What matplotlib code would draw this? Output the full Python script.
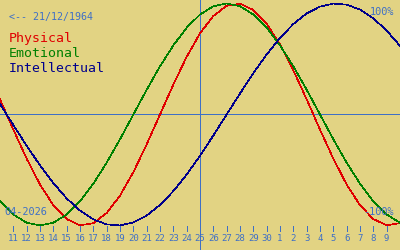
import matplotlib
matplotlib.use("Agg")
import matplotlib.pyplot as plt
import matplotlib.transforms as mtransforms

# Day positions (10 .. 40 -> April 10 .. May 10, 2026)
days = list(range(10, 41))
tick_days = list(range(11, 40))
tick_labels = [str(d) for d in range(11, 31)] + [str(d) for d in range(1, 10)]
today = 25

physical = [0.136, -0.136, -0.398, -0.631, -0.817, -0.942, -0.998, -0.979, -0.888, -0.731,
            -0.520, -0.270, 0.000, 0.270, 0.520, 0.731, 0.888, 0.979, 0.998, 0.942,
            0.817, 0.631, 0.398, 0.136, -0.136, -0.398, -0.631, -0.817, -0.942, -0.998, -0.979]
emotional = [-0.782, -0.901, -0.975, -1.000, -0.975, -0.901, -0.782, -0.623, -0.434, -0.223,
             0.000, 0.223, 0.434, 0.623, 0.782, 0.901, 0.975, 1.000, 0.975, 0.901,
             0.782, 0.623, 0.434, 0.223, 0.000, -0.223, -0.434, -0.623, -0.782, -0.901, -0.975]
intellectual = [0.095, -0.095, -0.282, -0.458, -0.618, -0.756, -0.866, -0.945, -0.990, -0.999,
                -0.972, -0.910, -0.815, -0.690, -0.541, -0.372, -0.189, 0.000, 0.189, 0.372,
                0.541, 0.690, 0.815, 0.910, 0.972, 0.999, 0.990, 0.945, 0.866, 0.756, 0.618]

series_names = ["Physical", "Emotional", "Intellectual"]
series_colors = ["#E00000", "#008000", "#00008C"]
birth_label = "<-- 21/12/1964"
month_label = "04-2026"

BG = "#E2D383"
BLUE = "#3E6FC6"
MONO = "DejaVu Sans Mono"
LW = 0.6

fig = plt.figure(figsize=(4, 2.5), dpi=100, facecolor=BG)
ax = fig.add_axes([0, 0, 1, 1], facecolor=BG)
ax.set_xlim(10, 40)
ax.set_ylim(-1.2207, 1.0315)
ax.axis("off")

ax.axhline(0, color=BLUE, lw=LW, antialiased=False, zorder=1)
ax.axvline(today, color=BLUE, lw=LW, antialiased=False, zorder=1)

for vals, col in zip([physical, emotional, intellectual], series_colors):
    ax.plot(days, vals, color=col, lw=0.45, antialiased=False, zorder=2)

tr = mtransforms.blended_transform_factory(ax.transData, ax.transAxes)
ax.vlines(tick_days, 1 - 231 / 250, 1 - 225.5 / 250, transform=tr, color=BLUE,
          lw=LW, antialiased=False)
for d, lab in zip(tick_days, tick_labels):
    ax.text(d, 1 - 238.5 / 250, lab, transform=tr, ha="center", va="center",
            fontsize=6.5, family=MONO, color=BLUE)

ax.text(9 / 400, 1 - 17 / 250, birth_label, transform=ax.transAxes, ha="left",
        va="center", fontsize=7.2, family=MONO, color=BLUE, zorder=3)
for i, (name, col) in enumerate(zip(series_names, series_colors)):
    ax.text(9 / 400, 1 - (38.5 + 15 * i) / 250, name, transform=ax.transAxes, ha="left",
            va="center", fontsize=9.5, family=MONO, color=col, zorder=3)

ax.text(394 / 400, 1 - 12 / 250, "100%", transform=ax.transAxes, ha="right",
        va="center", fontsize=7.4, family=MONO, color=BLUE, zorder=3)
ax.text(394 / 400, 1 - 212 / 250, "-100%", transform=ax.transAxes, ha="right",
        va="center", fontsize=7.4, family=MONO, color=BLUE, zorder=3)
ax.text(4 / 400, 1 - 212 / 250, month_label, transform=ax.transAxes, ha="left",
        va="center", fontsize=7.4, family=MONO, color=BLUE, zorder=3)

fig.savefig("out.png", dpi=100, facecolor=BG)
